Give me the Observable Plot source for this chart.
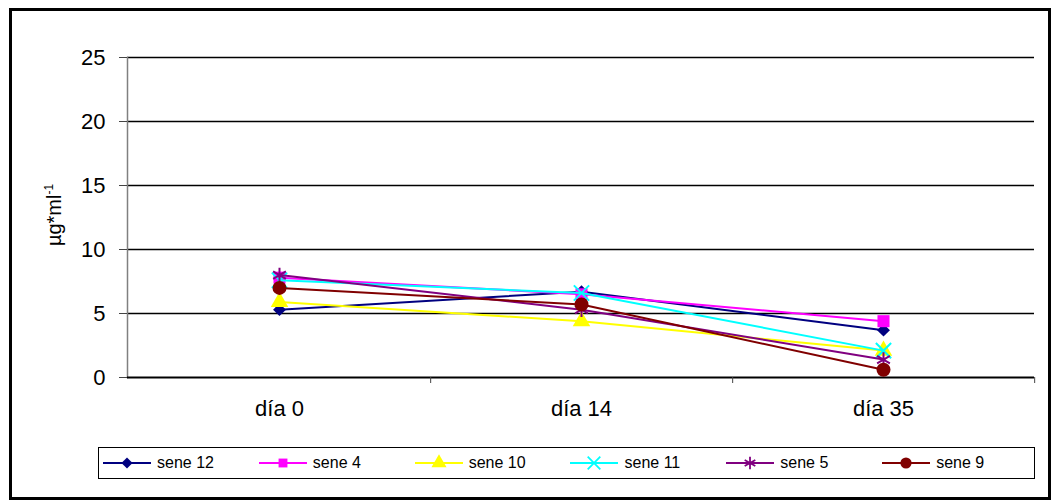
<!DOCTYPE html>
<html>
<head>
<meta charset="utf-8">
<script src="https://cdn.jsdelivr.net/npm/d3@7"></script>
<script src="https://cdn.jsdelivr.net/npm/@observablehq/plot@0.6"></script>
<style>
  html, body { margin: 0; padding: 0; background: #fff; }
  #wrap { position: relative; width: 1055px; height: 503px; font-family: "Liberation Sans", Arial, sans-serif; overflow: hidden; }
  #frame { position: absolute; left: 9px; top: 8px; width: 1042px; height: 492px; border: 3px solid #000; box-sizing: border-box; }
  #chart { position: absolute; left: 0; top: 0; }
  #ytitle { position: absolute; left: 54px; top: 215px; transform: translate(-50%, -50%) rotate(-90deg); font-size: 20px; white-space: nowrap; color: #000; }
  #ytitle sup { font-size: 12px; }
  #legend { position: absolute; left: 98px; top: 447px; width: 937px; height: 32px; border: 1.5px solid #000; box-sizing: border-box; display: flex; align-items: center; font-size: 16px; color: #000; }
  .item { display: flex; align-items: center; width: 159.5px; }
  .item svg { margin-left: 4px; margin-right: 6px; }
</style>
</head>
<body>
<div id="wrap">
  <div id="frame"></div>
  <div id="chart"></div>
  <div id="ytitle">µg*ml<sup>-1</sup></div>
  <div id="legend"></div>
</div>
<script>
const days = ["día 0", "día 14", "día 35"];
const seriesNames = ["sene 12", "sene 4", "sene 10", "sene 11", "sene 5", "sene 9"];
const sene12 = [5.3, 6.7, 3.7];
const sene4  = [7.8, 6.5, 4.4];
const sene10 = [5.9, 4.4, 2.1];
const sene11 = [7.6, 6.6, 2.1];
const sene5  = [8.0, 5.3, 1.4];
const sene9  = [7.0, 5.7, 0.6];
const yTicks = [0, 5, 10, 15, 20, 25];

const colors  = ["#000080", "#FF00FF", "#FFFF00", "#00FFFF", "#800080", "#800000"];
const symbols = ["diamond2", "square", "triangle", "times", "asterisk", "circle"];
const filled  = [true, true, true, false, false, true];
const sizes   = [5.8, 6.8, 6.5, 7, 7, 7];
const legSizes = [5, 5, 5.6, 5.8, 5.8, 5.6];

const valuesBySeries = [sene12, sene4, sene10, sene11, sene5, sene9];
const data = [];
seriesNames.forEach((s, i) => days.forEach((d, j) => data.push({series: s, day: d, value: valuesBySeries[i][j], i})));

const W = 1055, H = 440, mL = 127, mR = 21, mT = 57, mB = 63;
const halfBand = (W - mL - mR) / days.length / 2;

const marks = [
  Plot.ruleY(yTicks.filter(v => v > 0), {stroke: "#000", strokeWidth: 1.5}),
  Plot.frame({anchor: "left", stroke: "#808080", strokeWidth: 1.5}),
  Plot.ruleY([0], {stroke: "#000", strokeWidth: 2}),
  Plot.axisY({ticks: yTicks, tickSize: 8, tickPadding: 14, fontSize: 22, label: null, stroke: "#444"}),
  Plot.axisX({tickSize: 0, tickPadding: 23, fontSize: 22, label: null}),
  Plot.axisX({ticks: days, tickSize: 6, tickFormat: () => "", dx: halfBand, label: null, stroke: "#444"})
];
seriesNames.forEach((s, i) => {
  const rows = data.filter(d => d.series === s);
  marks.push(Plot.line(rows, {x: "day", y: "value", stroke: colors[i], strokeWidth: 2}));
  marks.push(Plot.dot(rows, {
    x: "day", y: "value", symbol: () => symbols[i], r: sizes[i],
    fill: filled[i] ? colors[i] : "none",
    stroke: colors[i], strokeWidth: filled[i] ? 0 : 2
  }));
});

const chart = Plot.plot({
  width: W, height: H,
  marginLeft: mL, marginRight: mR, marginTop: mT, marginBottom: mB,
  style: {background: "transparent", fontFamily: "'Liberation Sans', Arial, sans-serif", color: "#000"},
  x: {type: "band", domain: days, padding: 0},
  y: {domain: [0, 25]},
  symbol: {type: "identity"},
  marks
});
document.getElementById("chart").appendChild(chart);

// Legend
const leg = d3.select("#legend");
const symMap = {diamond2: d3.symbolDiamond2, square: d3.symbolSquare, triangle: d3.symbolTriangle, times: d3.symbolTimes, asterisk: d3.symbolAsterisk, circle: d3.symbolCircle};
seriesNames.forEach((s, i) => {
  const it = leg.append("div").attr("class", "item");
  const svg = it.append("svg").attr("width", 48).attr("height", 18);
  svg.append("line").attr("x1", 0).attr("x2", 48).attr("y1", 9).attr("y2", 9).attr("stroke", colors[i]).attr("stroke-width", 2);
  svg.append("path")
    .attr("transform", "translate(24,9)")
    .attr("d", d3.symbol(symMap[symbols[i]], Math.PI * legSizes[i] * legSizes[i])())
    .attr("fill", filled[i] ? colors[i] : "none")
    .attr("stroke", filled[i] ? "none" : colors[i])
    .attr("stroke-width", 1.8);
  it.append("span").text(s);
});
</script>
</body>
</html>
